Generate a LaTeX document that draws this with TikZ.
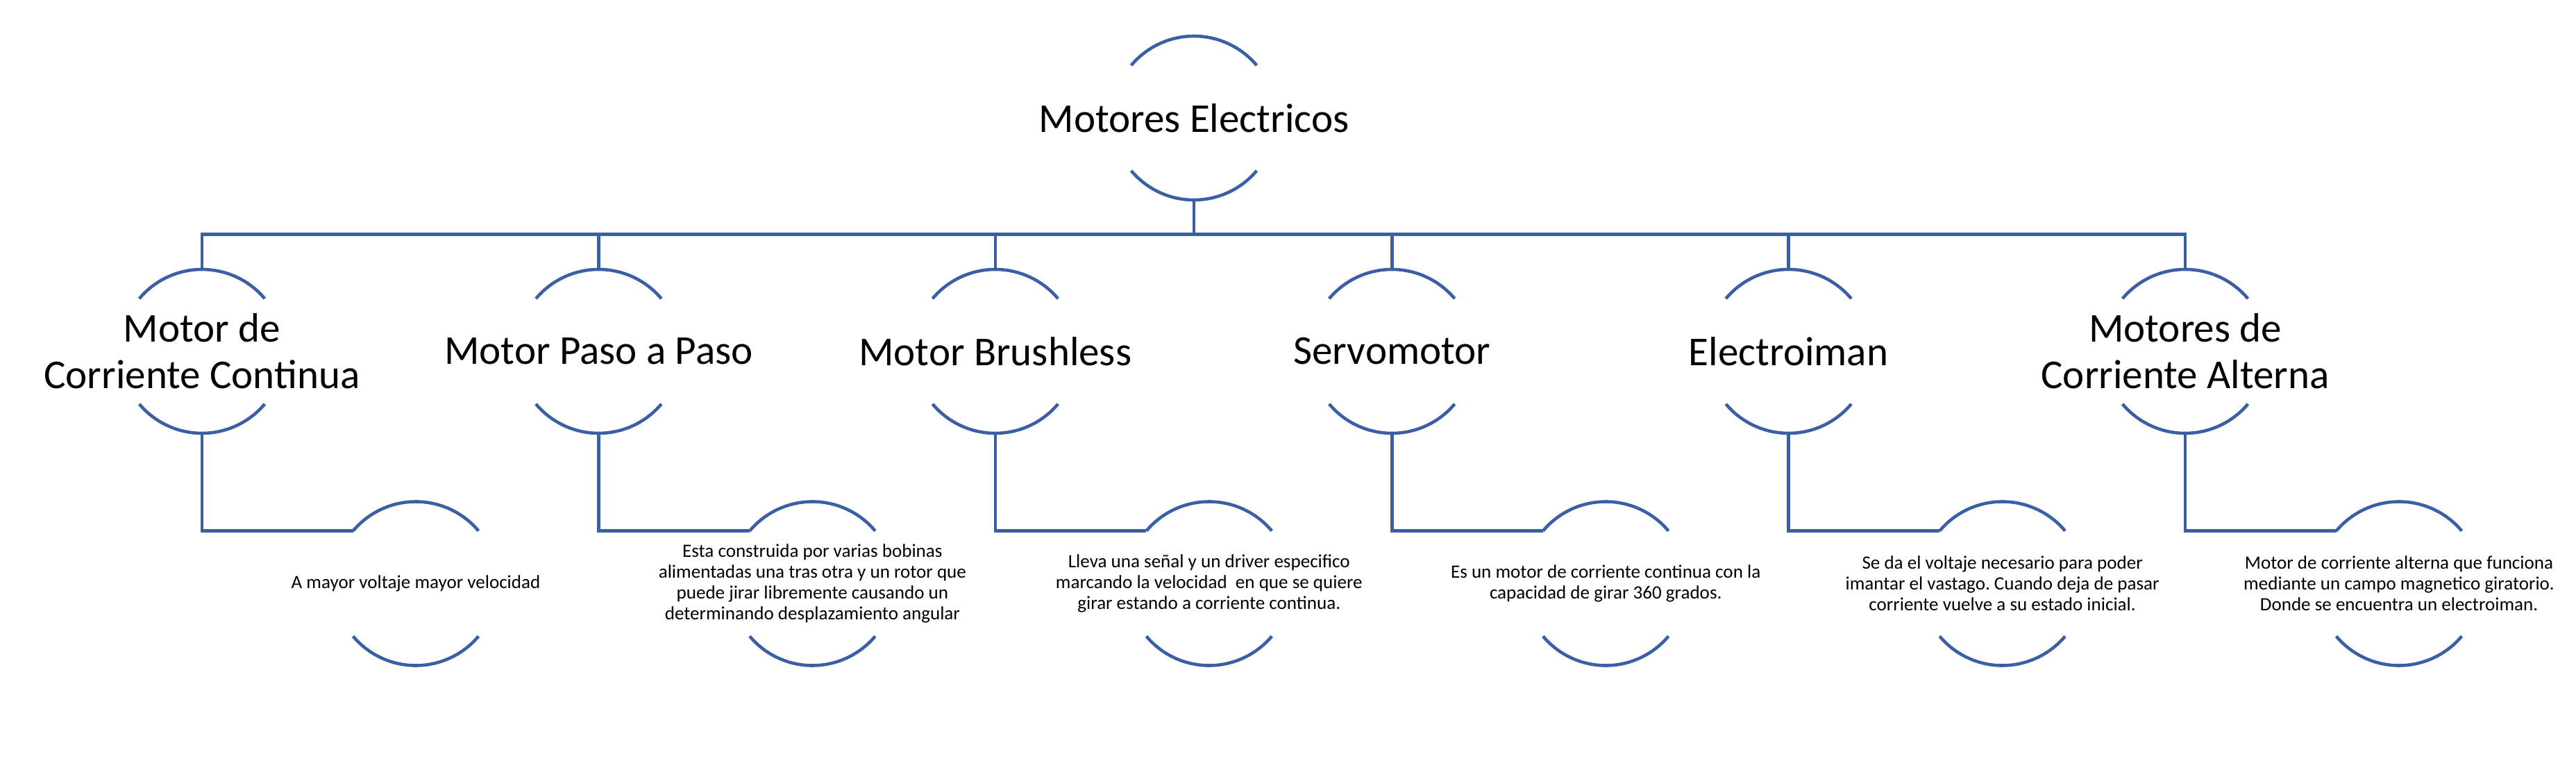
\documentclass[tikz,border=0pt]{standalone}
\usepackage{fontspec}
\setmainfont{Carlito}
\usetikzlibrary{positioning}
\definecolor{myBlue}{RGB}{59,95,165}
\frenchspacing

\begin{document}
\begin{tikzpicture}[
				ring/.style={circle, minimum size=2.36cm, inner sep=0pt, outer sep=0pt},
				title/.style={align=center, font=\fontsize{16.8}{19}\selectfont},
				desc/.style={align=center, font=\fontsize{7.7}{8.5}\selectfont},
				rim/.style={line width=1.3pt, myBlue},
				conn/.style={line width=1.3pt, myBlue}
			]
				\useasboundingbox (0,0) rectangle (37.11,-11.09);

				% top
				\node[ring, label={[title]center:Motores Electricos}] (root) at (17.20,-1.70) {};

				% motor types
				\node[ring, label={[title]center:Motor de\\Corriente Continua}] (dc) at (2.91,-5.06) {};
				\node[ring, right=3.354cm of dc, label={[title]center:Motor Paso a Paso}] (paso) {};
				\node[ring, right=3.354cm of paso, label={[title]center:Motor Brushless}] (bl) {};
				\node[ring, right=3.354cm of bl, label={[title]center:Servomotor}] (servo) {};
				\node[ring, right=3.354cm of servo, label={[title]center:Electroiman}] (em) {};
				\node[ring, right=3.354cm of em, label={[title]center:Motores de\\Corriente Alterna}] (ac) {};

				% descriptions
				\node[ring, xshift=3.08cm, yshift=-3.345cm, label={[desc]center:A mayor voltaje mayor velocidad}] (dcd) at (dc) {};
				\node[ring, xshift=3.08cm, yshift=-3.345cm, label={[desc]center:Esta construida por varias bobinas\\alimentadas una tras otra y un rotor que\\puede jirar libremente causando un\\determinando desplazamiento angular}] (pasod) at (paso) {};
				\node[ring, xshift=3.08cm, yshift=-3.345cm, label={[desc]center:Lleva una señal y un driver especifico\\marcando la velocidad\ \ en que se quiere\\girar estando a corriente continua.}] (bld) at (bl) {};
				\node[ring, xshift=3.08cm, yshift=-3.345cm, label={[desc]center:Es un motor de corriente continua con la\\capacidad de girar 360 grados.}] (servod) at (servo) {};
				\node[ring, xshift=3.08cm, yshift=-3.345cm, label={[desc]center:Se da el voltaje necesario para poder\\imantar el vastago. Cuando deja de pasar\\corriente vuelve a su estado inicial.}] (emd) at (em) {};
				\node[ring, xshift=3.08cm, yshift=-3.345cm, label={[desc]center:Motor de corriente alterna que funciona\\mediante un campo magnetico giratorio.\\Donde se encuentra un electroiman.}] (acd) at (ac) {};

				% open circles
				\foreach \n in {root,dc,paso,bl,servo,em,ac,dcd,pasod,bld,servod,emd,acd}
					\draw[rim] (\n.40) arc[start angle=40, end angle=140, radius=1.18cm]
						(\n.220) arc[start angle=220, end angle=320, radius=1.18cm];

				% connectors
				\foreach \n in {dc,paso,bl,servo,em,ac}
					\draw[conn] (root.south) -- ++(0,-0.495) -| (\n.north);
				\foreach \n/\d in {dc/dcd,paso/pasod,bl/bld,servo/servod,em/emd,ac/acd}
					\draw[conn] (\n.south) |- (\d.140);
			\end{tikzpicture}
\end{document}
